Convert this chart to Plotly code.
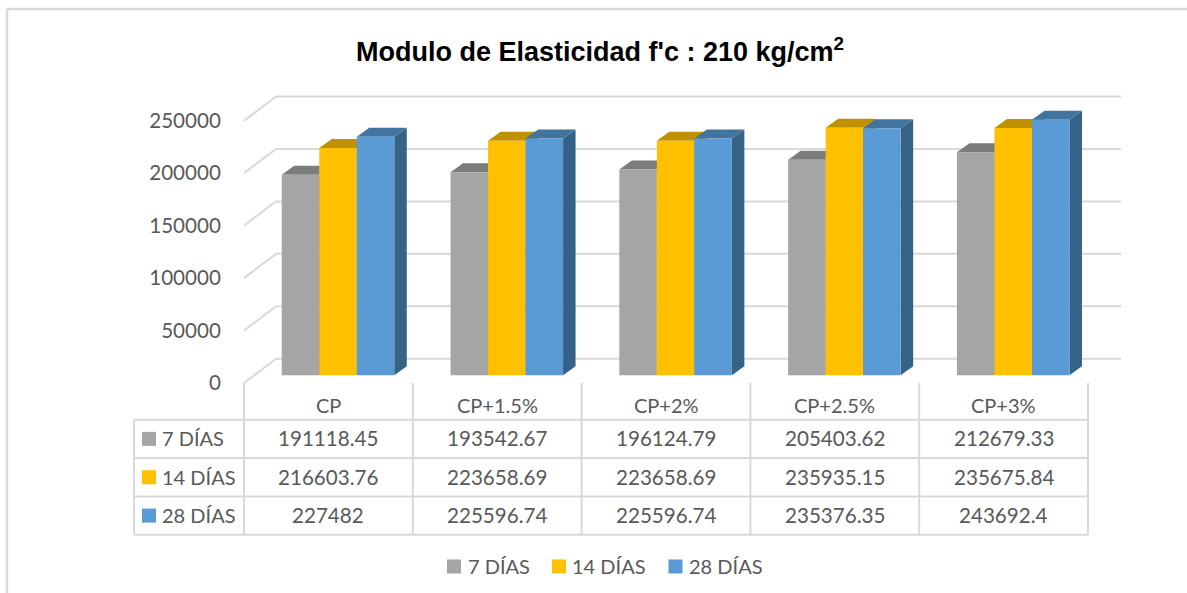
"""
Modulo de Elasticidad f'c : 210 kg/cm2 - barras con efecto 3D y tabla de datos
"""

import plotly.graph_objects as go

# datos
categorias = ['CP', 'CP+1.5%', 'CP+2%', 'CP+2.5%', 'CP+3%']
series = ['7 DÍAS', '14 DÍAS', '28 DÍAS']
dias_7 = [191118.45, 193542.67, 196124.79, 205403.62, 212679.33]
dias_14 = [216603.76, 223658.69, 223658.69, 235935.15, 235675.84]
dias_28 = [227482, 225596.74, 225596.74, 235376.35, 243692.4]
ticks_y = [0, 50000, 100000, 150000, 200000, 250000]

# colores: frente, tapa, lateral
COLORES = [
    ('#A5A5A5', '#7C7C7C', '#636363'),
    ('#FFC000', '#BF9000', '#997300'),
    ('#5B9BD5', '#4274A0', '#376288'),
]
GRID = '#D9D9D9'
TEXTO = '#595959'
FUENTE = 'Lato'
TAM = 20
TAM_NUM = 20.6

# caja del grafico en pixeles
W, H = 1187, 593
L, R, T, B = 244, 1121, 90, 382.7
PX_CAT = 168.8
PX_VAL = 262 / 250000

x_max = -0.5 + (R - L) / PX_CAT
y_min = -(B - 375) / PX_VAL
y_max = (375 - T) / PX_VAL

ANCHO = (1 - 1 / 3) / 3
CORRIMIENTO = 0.0569
PROF_X = 12.5 / PX_CAT
PROF_Y = 9 / PX_VAL


def px(x):
    return (x - L) / (R - L)


def py(y):
    return (B - y) / (B - T)


def linea(x0, y0, x1, y1, ancho=2):
    return dict(type='line', xref='paper', yref='paper',
                x0=px(x0), y0=py(y0), x1=px(x1), y1=py(y1),
                line=dict(color=GRID, width=ancho))


def cuadro(x0, y0, lado, color):
    return dict(type='rect', xref='paper', yref='paper',
                x0=px(x0), y0=py(y0), x1=px(x0 + lado), y1=py(y0 + lado),
                fillcolor=color, line=dict(width=0))


def texto(x, y, s, anchor='center', tam=TAM):
    return dict(xref='paper', yref='paper', x=px(x), y=py(y), text=s,
                showarrow=False, xanchor=anchor, yanchor='middle',
                font=dict(family=FUENTE, size=tam, color=TEXTO))


fig = go.Figure()

# lineas de division: pared lateral y pared del fondo
for t in ticks_y:
    fig.add_trace(go.Scatter(
        x=[-0.5, -0.5 + 32 / PX_CAT, x_max],
        y=[t + y_min, t + 16.5 / PX_VAL, t + 16.5 / PX_VAL],
        mode='lines', line=dict(color=GRID, width=2),
        showlegend=False, hoverinfo='skip', cliponaxis=False
    ))

# tapas y laterales
for j, valores in enumerate([dias_7, dias_14, dias_28]):
    for i, v in enumerate(valores):
        x0 = i + CORRIMIENTO + (j - 1.5) * ANCHO
        x1 = x0 + ANCHO
        fig.add_trace(go.Scatter(
            x=[x1, x1 + PROF_X, x1 + PROF_X, x1, x1],
            y=[0, PROF_Y, v + PROF_Y, v, 0],
            mode='lines', fill='toself', fillcolor=COLORES[j][2],
            line=dict(width=0), showlegend=False, hoverinfo='skip'
        ))
        fig.add_trace(go.Scatter(
            x=[x0, x1, x1 + PROF_X, x0 + PROF_X, x0],
            y=[v, v, v + PROF_Y, v + PROF_Y, v],
            mode='lines', fill='toself', fillcolor=COLORES[j][1],
            line=dict(width=0), showlegend=False, hoverinfo='skip'
        ))

# caras frontales, en un eje superpuesto para quedar encima
x_barras = [i + CORRIMIENTO for i in range(len(categorias))]
for j, valores in enumerate([dias_7, dias_14, dias_28]):
    fig.add_trace(go.Bar(
        x=x_barras, y=valores, name=series[j], xaxis='x2', yaxis='y2',
        marker=dict(color=COLORES[j][0], line=dict(width=0)), showlegend=False
    ))

# tabla de datos
shapes = [linea(7, 9, W, 9, 2.5), linea(7, 9, 7, H, 2.5)]
filas_y = [419.3, 457.7, 496, 534.3]
for y in filas_y:
    shapes.append(linea(134, y, 1088, y))
shapes.append(linea(134, filas_y[0], 134, filas_y[-1]))
for i in range(len(categorias) + 1):
    shapes.append(linea(L + i * PX_CAT, B, L + i * PX_CAT, filas_y[-1]))

annotations = []
for i, c in enumerate(categorias):
    cx = L + (i + 0.5) * PX_CAT
    annotations.append(texto(cx, 405, c))
    for f, valores in enumerate([dias_7, dias_14, dias_28]):
        annotations.append(texto(cx, (filas_y[f] + filas_y[f + 1]) / 2 - 0.5, str(valores[i]), tam=TAM_NUM))
for f, s in enumerate(series):
    yc = (filas_y[f] + filas_y[f + 1]) / 2
    shapes.append(cuadro(142, yc - 7, 14, COLORES[f][0]))
    annotations.append(texto(160, yc - 0.5, s, 'left'))

# leyenda inferior
for f, (xk, xt) in enumerate([(447, 465.5), (552, 570), (668.5, 687)]):
    shapes.append(cuadro(xk, 559, 14, COLORES[f][0]))
    annotations.append(texto(xt, 565.5, series[f], 'left'))

fig.update_layout(
    width=W, height=H,
    margin=dict(l=L, r=W - R, t=T, b=H - B, autoexpand=False),
    paper_bgcolor='white', plot_bgcolor='white',
    showlegend=False,
    barmode='group', bargap=1 / 3, bargroupgap=0,
    title=dict(
        text="<b>Modulo de Elasticidad f'c : 210 kg/cm<sup>2</sup></b>",
        x=600 / W, xanchor='center', xref='container',
        y=1 - 52 / H, yanchor='middle', yref='container',
        font=dict(family='Liberation Sans', size=27, color='black')
    ),
    xaxis=dict(range=[-0.5, x_max], visible=False, fixedrange=True),
    yaxis=dict(
        range=[y_min, y_max], showgrid=False, zeroline=False, fixedrange=True,
        tickmode='array', tickvals=[t + y_min for t in ticks_y],
        ticktext=[str(t) for t in ticks_y],
        ticks='outside', ticklen=18, tickcolor='rgba(0,0,0,0)',
        tickfont=dict(family=FUENTE, size=TAM_NUM, color=TEXTO)
    ),
    xaxis2=dict(range=[-0.5, x_max], overlaying='x', visible=False, fixedrange=True),
    yaxis2=dict(range=[y_min, y_max], overlaying='y', visible=False, fixedrange=True),
    shapes=shapes,
    annotations=annotations
)

fig.write_html("out.html", config=dict(displayModeBar=False),
               post_script="document.body.style.margin='0';")
